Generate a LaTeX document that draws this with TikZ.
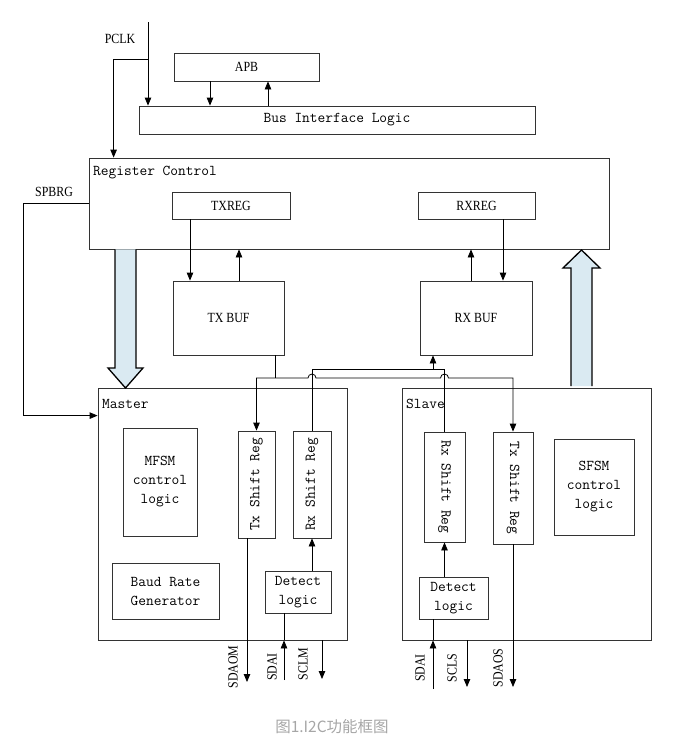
\documentclass[tikz,border=0pt]{standalone}
\usepackage{fontspec}
\usepackage{tikz}
\usetikzlibrary{arrows.meta,calc}
\newfontfamily\capsfont[FakeStretch=0.85]{Liberation Serif}
\newfontfamily\cjkfont{Noto Sans CJK SC}
\newcommand{\mono}{\ttfamily\fontsize{15}{19}\selectfont}
\newcommand{\caps}{\capsfont\fontsize{14}{17}\selectfont}
\definecolor{arrowblue}{HTML}{DAEAF2}
\definecolor{captiongray}{HTML}{A6A6A6}

\begin{document}
\begin{tikzpicture}[x=1pt,y=-1pt,>={Triangle[length=8pt,width=6.5pt]},
  blk/.style={draw=black!80,line width=0.8pt,inner sep=0pt,align=center,font=\mono},
  lbl/.style={inner sep=0pt,font=\caps},
  wire/.style={line width=0.8pt},
  fat/.style={draw=black,line width=1.3pt,fill=arrowblue,line join=miter}]
\useasboundingbox (0,0) rectangle (683,744);
% top: clock, APB, bus interface
\node[blk,minimum width=145pt,minimum height=28pt,font=\caps] (apb) at (246.5,67) {APB};
\node[blk,minimum width=396pt,minimum height=28pt] (bil) at (337,120) {Bus Interface Logic};
\node[lbl] (pclklbl) at (120,39) {PCLK};
\coordinate (pclk) at (148,22);
\draw[wire,->] (pclk) -- (bil.north -| pclk);
\draw[wire,->] (apb.south -| 210,0) -- (bil.north -| 210,0);
\draw[wire,->] (bil.north -| 268,0) -- (apb.south -| 268,0);
% register control
\node[blk,minimum width=520pt,minimum height=91pt] (rc) at (349,203.5) {};
\node[inner sep=0pt,font=\mono,anchor=west] (rclbl) at (93,173) {Register Control};
\node[blk,minimum width=118pt,minimum height=27pt,font=\caps] (txreg) at (231,205.5) {TXREG};
\node[blk,minimum width=117pt,minimum height=27pt,font=\caps] (rxreg) at (476.5,205.5) {RXREG};
\draw[wire,->] (pclk |- 0,59) -| ($(rc.north west)+(25,0)$);
\node[lbl] (spbrglbl) at (54,192) {SPBRG};
% buffers
\node[blk,minimum width=111pt,minimum height=74pt,font=\caps] (txbuf) at (228.5,318) {TX BUF};
\node[blk,minimum width=112pt,minimum height=74pt,font=\caps] (rxbuf) at (476,318) {RX BUF};
\draw[wire,->] (txreg.south -| 190,0) -- (txbuf.north -| 190,0);
\draw[wire,->] (txbuf.north -| 239,0) -- (rc.south -| 239,0);
\draw[wire,->] (rxbuf.north -| 471,0) -- (rc.south -| 471,0);
\draw[wire,->] (rxreg.south -| 503,0) -- (rxbuf.north -| 503,0);
% master
\node[blk,minimum width=249pt,minimum height=252pt] (master) at (222.5,514) {};
\node[inner sep=0pt,font=\mono,anchor=west] (masterlbl) at (102,403.5) {Master};
\node[blk,minimum width=74pt,minimum height=108pt] (mfsm) at (160,482) {MFSM\\control\\logic};
\node[blk,minimum width=107pt,minimum height=56pt] (baud) at (165.5,591) {Baud Rate\\Generator};
\node[blk,minimum width=37pt,minimum height=107pt] (mtx) at (256.5,484.5) {\rotatebox{90}{Tx Shift Reg}};
\node[blk,minimum width=38pt,minimum height=107pt] (mrx) at (312,484.5) {\rotatebox{90}{Rx Shift Reg}};
\node[blk,minimum width=66pt,minimum height=42pt] (mdet) at (298,592) {Detect\\logic};
% slave
\node[blk,minimum width=249pt,minimum height=252pt] (slave) at (526.5,514) {};
\node[inner sep=0pt,font=\mono,anchor=west] (slavelbl) at (406,403.5) {Slave};
\node[blk,minimum width=41pt,minimum height=110pt] (srx) at (444.5,487) {\rotatebox{-90}{Rx Shift Reg}};
\node[blk,minimum width=40pt,minimum height=112pt] (stx) at (513,488) {\rotatebox{-90}{Tx Shift Reg}};
\node[blk,minimum width=80pt,minimum height=96pt] (sfsm) at (594,487) {SFSM\\control\\logic};
\node[blk,minimum width=69pt,minimum height=42pt] (sdet) at (453.5,598) {Detect\\logic};
% SPBRG to master
\draw[wire,->] (rc.west) -- ++(-65,0) |- ($(master.north west)+(0,28)$);
% big data arrows
\filldraw[fat] (rc.south -| 115,0) -- (115,368) -- (108,368) -- (125.5,388) -- (143,368) -- (136,368) -- (rc.south -| 136,0);
\filldraw[fat] (571,386) -- (571,268) -- (563,268) -- (581.5,250) -- (600,268) -- (592,268) -- (592,386);
% shift register buses
\draw[wire] (txbuf.south -| 275,0) -- (275,378);
\draw[wire,<->] (mtx.north) |- (308,378) arc[start angle=180,end angle=0,radius=4pt]
  -- (440.5,378) arc[start angle=180,end angle=0,radius=4pt] -| (stx.north);
\draw[wire] (mrx.north) |- (srx.north |- 0,369) -- (srx.north);
\draw[wire,->] (433,369) -- (rxbuf.south -| 433,0);
% master pins
\draw[wire,->] (mrx.south |- mdet.north) -- (mrx.south);
\draw[wire,->] (mtx.south -| 247,0) -- (247,682);
\coordinate (msdai) at (284,680);
\draw[wire,->] (msdai) -- (master.south -| msdai);
\draw[wire] (master.south -| msdai) -- (mdet.south -| msdai);
\draw[wire,->] (master.south -| 322,0) -- (322,679);
\node[lbl,rotate=90] (sdaom) at (233,667) {SDAOM};
\node[lbl,rotate=90] (msdailbl) at (272,667) {SDAI};
\node[lbl,rotate=90] (sclm) at (303,664) {SCLM};
% slave pins
\draw[wire,->] (srx.south |- sdet.north) -- (srx.south);
\coordinate (ssdai) at (433,689);
\draw[wire,->] (ssdai) -- (slave.south -| ssdai);
\draw[wire] (slave.south -| ssdai) -- (sdet.south -| ssdai);
\draw[wire,->] (slave.south -| 467,0) -- (467,687);
\draw[wire,->] (stx.south) -- (513,687);
\node[lbl,rotate=90] (ssdailbl) at (420,668) {SDAI};
\node[lbl,rotate=90] (scls) at (452,668) {SCLS};
\node[lbl,rotate=90] (sdaos) at (498,668) {SDAOS};
% caption
\node[font=\cjkfont\fontsize{15.5}{18}\selectfont,text=captiongray] (cap) at (332,727) {图1.I2C功能框图};
\end{tikzpicture}
\end{document}
